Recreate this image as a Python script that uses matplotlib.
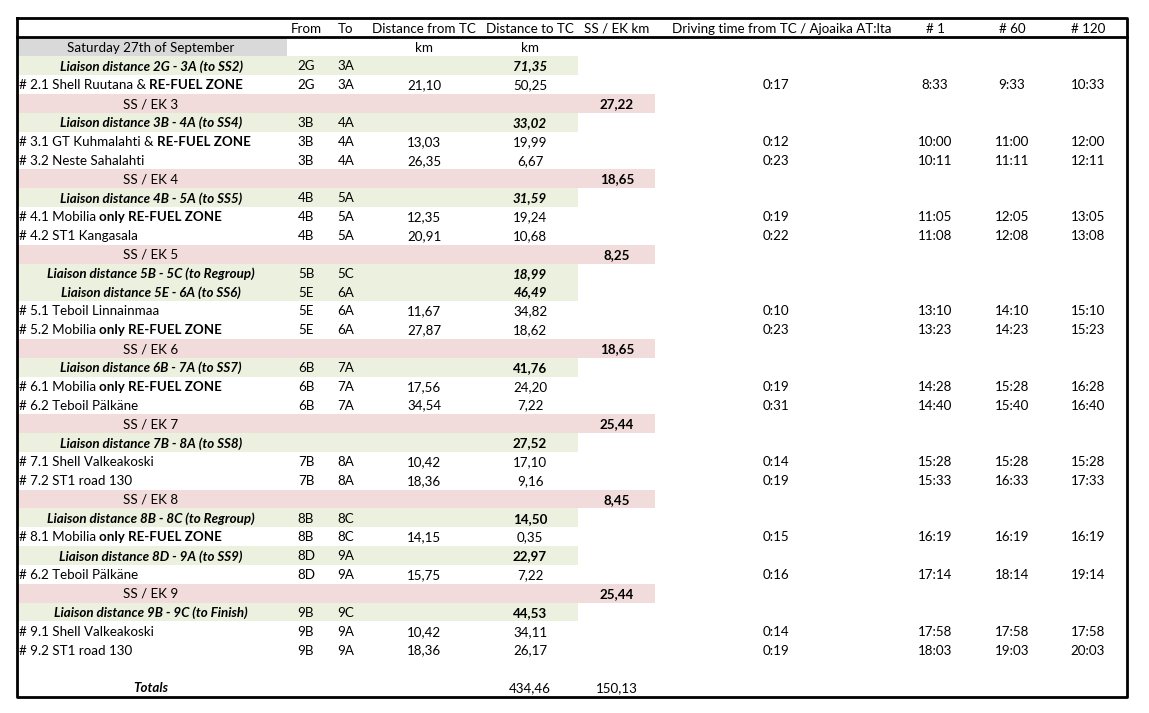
import matplotlib
matplotlib.use('Agg')
import matplotlib.pyplot as plt

# row kinds: D = date, L = liaison, S = station, SS = special stage, B = blank, T = totals
kinds = ['D', 'L', 'S', 'SS', 'L', 'S', 'S', 'SS', 'L', 'S', 'S', 'SS', 'L', 'L', 'S', 'S',
         'SS', 'L', 'S', 'S', 'SS', 'L', 'S', 'S', 'SS', 'L', 'S', 'L', 'S', 'SS', 'L', 'S',
         'S', 'B', 'T']
labels = ['Saturday 27th of September',
          'Liaison distance 2G - 3A (to SS2)',
          ('# 2.1 Shell Ruutana & ', 'RE-FUEL ZONE'),
          'SS / EK 3',
          'Liaison distance 3B - 4A (to SS4)',
          ('# 3.1 GT Kuhmalahti & ', 'RE-FUEL ZONE'),
          '# 3.2 Neste Sahalahti',
          'SS / EK 4',
          'Liaison distance 4B - 5A (to SS5)',
          ('# 4.1 Mobilia ', 'only RE-FUEL ZONE'),
          '# 4.2 ST1 Kangasala',
          'SS / EK 5',
          'Liaison distance 5B - 5C (to Regroup)',
          'Liaison distance 5E - 6A (to SS6)',
          '# 5.1 Teboil Linnainmaa',
          ('# 5.2 Mobilia ', 'only RE-FUEL ZONE'),
          'SS / EK 6',
          'Liaison distance 6B - 7A (to SS7)',
          ('# 6.1 Mobilia ', 'only RE-FUEL ZONE'),
          '# 6.2 Teboil Pälkäne',
          'SS / EK 7',
          'Liaison distance 7B - 8A (to SS8)',
          '# 7.1 Shell Valkeakoski',
          '# 7.2 ST1 road 130',
          'SS / EK 8',
          'Liaison distance 8B - 8C (to Regroup)',
          ('# 8.1 Mobilia ', 'only RE-FUEL ZONE'),
          'Liaison distance 8D - 9A (to SS9)',
          '# 6.2 Teboil Pälkäne',
          'SS / EK 9',
          'Liaison distance 9B - 9C (to Finish)',
          '# 9.1 Shell Valkeakoski',
          '# 9.2 ST1 road 130',
          '',
          'Totals']
frm = ['', '2G', '2G', '', '3B', '3B', '3B', '', '4B', '4B', '4B', '', '5B', '5E', '5E', '5E',
       '', '6B', '6B', '6B', '', '', '7B', '7B', '', '8B', '8B', '8D', '8D', '', '9B', '9B',
       '9B', '', '']
to = ['', '3A', '3A', '', '4A', '4A', '4A', '', '5A', '5A', '5A', '', '5C', '6A', '6A', '6A',
      '', '7A', '7A', '7A', '', '', '8A', '8A', '', '8C', '8C', '9A', '9A', '', '9C', '9A',
      '9A', '', '']
dist_from = [None, None, 21.10, None, None, 13.03, 26.35, None, None, 12.35, 20.91, None,
             None, None, 11.67, 27.87, None, None, 17.56, 34.54, None, None, 10.42, 18.36,
             None, None, 14.15, None, 15.75, None, None, 10.42, 18.36, None, None]
dist_to = [None, 71.35, 50.25, None, 33.02, 19.99, 6.67, None, 31.59, 19.24, 10.68, None,
           18.99, 46.49, 34.82, 18.62, None, 41.76, 24.20, 7.22, None, 27.52, 17.10, 9.16,
           None, 14.50, 0.35, 22.97, 7.22, None, 44.53, 34.11, 26.17, None, 434.46]
ss_km = [None, None, None, 27.22, None, None, None, 18.65, None, None, None, 8.25, None,
         None, None, None, 18.65, None, None, None, 25.44, None, None, None, 8.45, None,
         None, None, None, 25.44, None, None, None, None, 150.13]
drive = ['', '', '0:17', '', '', '0:12', '0:23', '', '', '0:19', '0:22', '', '', '', '0:10',
         '0:23', '', '', '0:19', '0:31', '', '', '0:14', '0:19', '', '', '0:15', '', '0:16',
         '', '', '0:14', '0:19', '', '']
car1 = ['', '', '8:33', '', '', '10:00', '10:11', '', '', '11:05', '11:08', '', '', '',
        '13:10', '13:23', '', '', '14:28', '14:40', '', '', '15:28', '15:33', '', '', '16:19',
        '', '17:14', '', '', '17:58', '18:03', '', '']
car60 = ['', '', '9:33', '', '', '11:00', '11:11', '', '', '12:05', '12:08', '', '', '',
         '14:10', '14:23', '', '', '15:28', '15:40', '', '', '15:28', '16:33', '', '', '16:19',
         '', '18:14', '', '', '17:58', '19:03', '', '']
car120 = ['', '', '10:33', '', '', '12:00', '12:11', '', '', '13:05', '13:08', '', '', '',
          '15:10', '15:23', '', '', '16:28', '16:40', '', '', '15:28', '17:33', '', '', '16:19',
          '', '19:14', '', '', '17:58', '20:03', '', '']
# liaison values that are printed in italic
italic_rows = [1, 4, 8, 12, 13]
headers = ['From', 'To', 'Distance from TC', 'Distance to TC', 'SS / EK km',
           'Driving time from TC / Ajoaika AT:lta', '# 1', '# 60', '# 120']

plt.rcParams['font.family'] = ['Lato', 'DejaVu Sans']
FS = 9.6

fig = plt.figure(figsize=(11.49, 7.13), dpi=100)
ax = fig.add_axes([0, 0, 1, 1])
ax.set_xlim(0, 1149)
ax.set_ylim(713, 0)
ax.axis('off')

rh = 18.84
y0 = 28 + rh
ys = [y0 + i * rh for i in range(len(kinds))]
dy = 0.8  # text sits a touch below the band centre
x_left, x_right = 17, 1127
x_lab, x_mid = 19, 151
x_cols = [306, 346, 424, 530, 617, 776, 935, 1012, 1088]

fmt = lambda v: '' if v is None else '{:.2f}'.format(v).replace('.', ',')

# bands
band = {'D': (287, '#d9d9d9'), 'L': (578, '#ebf1de'), 'SS': (655, '#f2dcdb')}
for y, k in zip(ys, kinds):
    if k in band:
        w, c = band[k]
        ax.barh(y, w - x_left, left=x_left, height=rh, color=c, linewidth=0, zorder=0)

# frame
ax.plot([x_left, x_right, x_right, x_left, x_left], [18, 18, 697, 697, 18], color='black', lw=2, solid_capstyle='projecting')
ax.plot([x_left, x_right], [37, 37], color='black', lw=2)

ax.text(782, 28 + dy, headers[5], ha='center', va='center', fontsize=FS)
for j, (x, h) in enumerate(zip(x_cols, headers)):
    if j != 5:
        ax.text(x, 28 + dy, h, ha='center', va='center', fontsize=FS)

renderer = fig.canvas.get_renderer()
inv = ax.transData.inverted()
for i, (y, k, lab) in enumerate(zip(ys, kinds, labels)):
    ty = y + dy
    if k == 'D':
        ax.text(x_mid, ty, lab, ha='center', va='center', fontsize=FS)
        ax.text(x_cols[2], ty, 'km', ha='center', va='center', fontsize=FS)
        ax.text(x_cols[3], ty, 'km', ha='center', va='center', fontsize=FS)
        continue
    if k in ('L', 'T'):
        ax.text(x_mid, ty, lab, ha='center', va='center', fontsize=FS, fontweight='bold', style='italic')
    elif k == 'SS':
        ax.text(x_mid, ty, lab, ha='center', va='center', fontsize=FS)
    elif k == 'S':
        if isinstance(lab, tuple):
            t = ax.text(x_lab, ty, lab[0].rstrip(), ha='left', va='center', fontsize=FS)
            bb = t.get_window_extent(renderer)
            xe = inv.transform((bb.x1, 0))[0]
            ax.text(xe + 3, ty, lab[1], ha='left', va='center', fontsize=FS, fontweight='bold')
        else:
            ax.text(x_lab, ty, lab, ha='left', va='center', fontsize=FS)

    vals = [frm[i], to[i], fmt(dist_from[i]), fmt(dist_to[i]), fmt(ss_km[i]),
            drive[i], car1[i], car60[i], car120[i]]
    for j, (x, v) in enumerate(zip(x_cols, vals)):
        if not v:
            continue
        kw = {}
        if k == 'L' and j == 3:
            kw['fontweight'] = 'bold'
            if i in italic_rows:
                kw['style'] = 'italic'
        if k == 'SS' and j == 4:
            kw['fontweight'] = 'bold'
        ax.text(x, ty, v, ha='center', va='center', fontsize=FS, **kw)

fig.savefig('out.png', dpi=100, facecolor='white')
